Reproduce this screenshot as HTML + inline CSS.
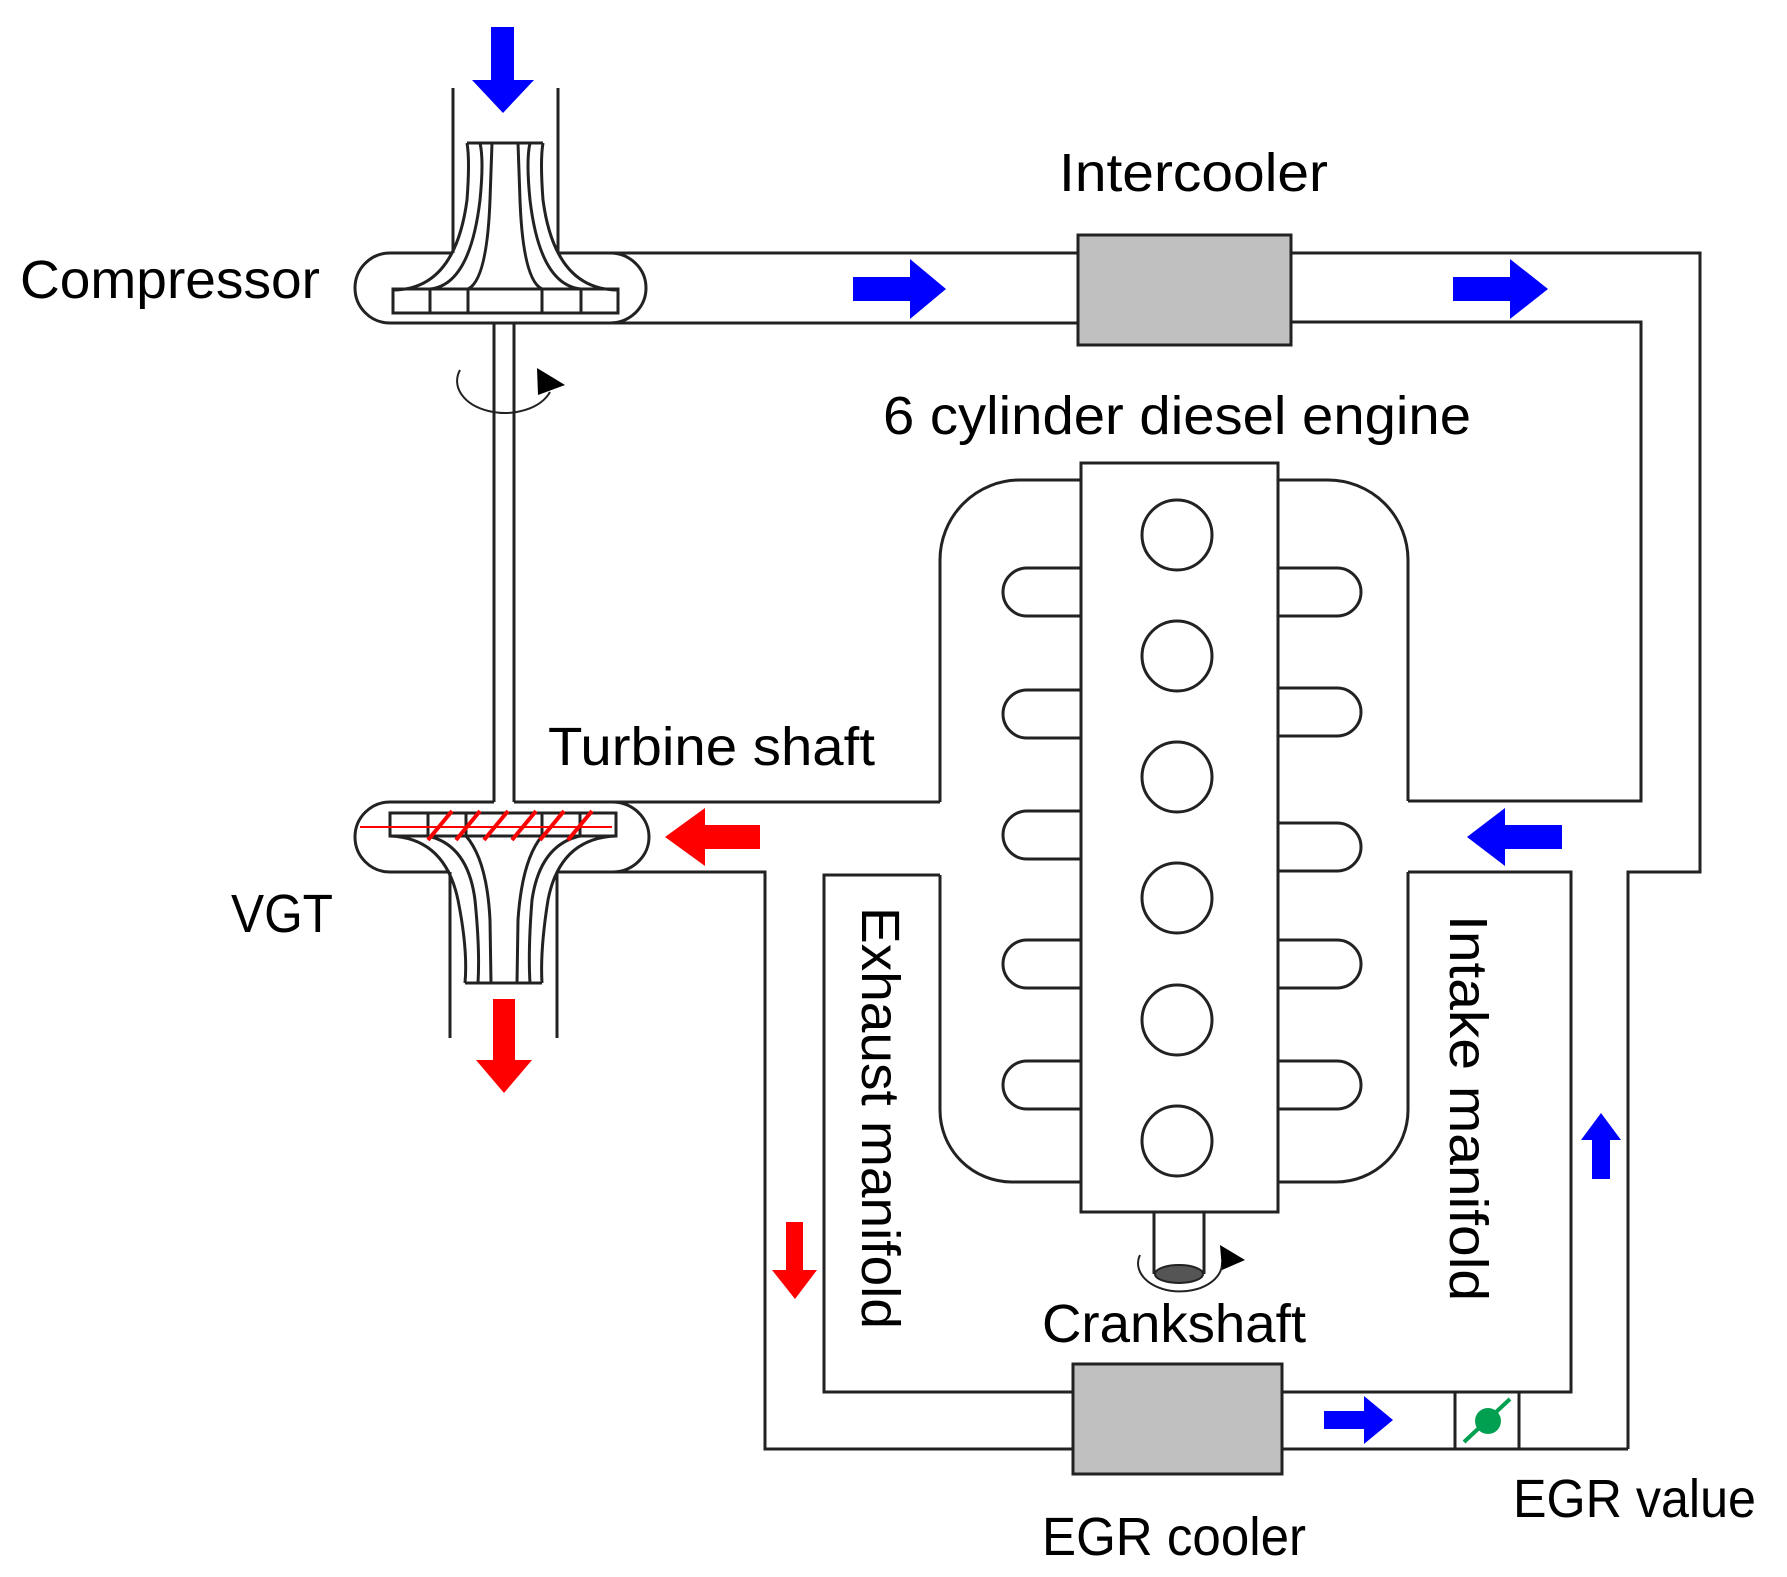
<!DOCTYPE html>
<html><head><meta charset="utf-8"><style>
html,body{margin:0;padding:0;background:#fff;}
svg{display:block;}
text{font-family:"Liberation Sans",sans-serif;fill:#000;}
</style></head><body>
<svg width="1787" height="1577" viewBox="0 0 1787 1577" xmlns="http://www.w3.org/2000/svg">
<g fill="none" stroke="#222" stroke-width="3">
<!-- compressor inlet -->
<path d="M453 88 V253 M558 88 V253"/>
<!-- compressor housing -->
<path d="M453 253 H390 A35 35 0 0 0 390 323 H629"/>
<path d="M558 253 H1078 M629 323 H1078"/>
<path d="M610 253 A36 35 0 0 1 610 323"/>
<!-- impeller -->
<rect x="393" y="289" width="225" height="24"/>
<path d="M430 289 V313 M468 289 V313 M542 289 V313 M581 289 V313"/>
<path d="M467 143 H543"/>
<path d="M393 290 Q455 290 467 200 Q470 160 467 143"/>
<path d="M430 289 Q470 285 480 200 Q484 160 480 143"/>
<path d="M468 289 Q487 280 490 200 L492 143"/>
<path d="M542 289 Q523 280 520 200 L518 143"/>
<path d="M581 289 Q540 285 530 200 Q526 160 530 143"/>
<path d="M618 290 Q555 290 543 200 Q540 160 543 143"/>
<!-- shaft -->
<path d="M494 323 V802 M514 323 V802"/>
<!-- rotation arrow top -->
<path d="M460 370 A42 28 0 0 0 550 392" stroke-width="2"/>
<!-- intercooler to right -->
<path d="M1291 253 H1700 V872 H1628 V1449 M1291 322 H1641 V801 H1408"/>
<!-- turbine housing -->
<path d="M494 802 H390 A35 35 0 0 0 390 872 H450 M557 872 H765 V1449 H1073 M514 802 H940"/>
<path d="M612 802 A37 35 0 0 1 612 872"/>
<rect x="390" y="813" width="226" height="23"/>
<path d="M428 813 V836 M466 813 V836 M542 813 V836 M580 813 V836"/>
<path d="M450 872 V1038 M557 872 V1038"/>
<path d="M465 983 H542"/>
<path d="M390 836 Q445 838 458 900 Q468 950 465 983"/>
<path d="M428 836 Q468 845 475 900 Q480 950 478 983"/>
<path d="M466 836 Q487 860 490 920 L491 983"/>
<path d="M542 836 Q522 860 518 920 L517 983"/>
<path d="M580 836 Q540 845 532 900 Q528 950 530 983"/>
<path d="M616 836 Q560 838 548 900 Q540 950 542 983"/>
<!-- exhaust inner -->
<path d="M940 875 H824 V1392 H1073"/>
<!-- EGR right -->
<path d="M1282 1392 H1571 V872 H1408 M1282 1449 H1628"/>
<rect x="1455" y="1392" width="64" height="57"/>
<!-- engine outline -->
<path d="M940 802 V560 A80 80 0 0 1 1020 480 H1081"/>
<path d="M1408 801 V560 A80 80 0 0 0 1328 480 H1278"/>
<path d="M940 875 V1110 A72 72 0 0 0 1012 1182 H1081"/>
<path d="M1408 872 V1110 A72 72 0 0 1 1336 1182 H1278"/>
<rect x="1081" y="463" width="197" height="749"/>
<!-- cylinders -->
<ellipse cx="1177" cy="535" rx="35" ry="35"/>
<ellipse cx="1177" cy="656" rx="35" ry="35"/>
<ellipse cx="1177" cy="777" rx="35" ry="35"/>
<ellipse cx="1177" cy="898" rx="35" ry="35"/>
<ellipse cx="1177" cy="1020" rx="35" ry="35"/>
<ellipse cx="1177" cy="1141" rx="35" ry="35"/>
<!-- fins left -->
<path d="M1081 568 H1027 A24 24 0 0 0 1027 616 H1081"/>
<path d="M1081 690 H1027 A24 24 0 0 0 1027 738 H1081"/>
<path d="M1081 811 H1027 A24 24 0 0 0 1027 859 H1081"/>
<path d="M1081 940 H1027 A24 24 0 0 0 1027 988 H1081"/>
<path d="M1081 1061 H1027 A24 24 0 0 0 1027 1109 H1081"/>
<!-- fins right -->
<path d="M1278 568 H1337 A24 24 0 0 1 1337 616 H1278"/>
<path d="M1278 688 H1337 A24 24 0 0 1 1337 736 H1278"/>
<path d="M1278 823 H1337 A24 24 0 0 1 1337 871 H1278"/>
<path d="M1278 940 H1337 A24 24 0 0 1 1337 988 H1278"/>
<path d="M1278 1061 H1337 A24 24 0 0 1 1337 1109 H1278"/>
<!-- crankshaft -->
<path d="M1154 1212 V1274 M1204 1212 V1274"/>
<path d="M1140 1255 A42 28 0 1 0 1222 1262" stroke-width="2"/>
</g>
<ellipse cx="1179" cy="1274" rx="24" ry="9" fill="#555" stroke="#222" stroke-width="2"/>
<polygon points="1220,1245 1245,1260 1222,1270" fill="#000"/>
<polygon points="537,368 565,385 538,395" fill="#000"/>
<!-- coolers -->
<rect x="1078" y="235" width="213" height="110" fill="#c0c0c0" stroke="#222" stroke-width="3"/>
<rect x="1073" y="1364" width="209" height="110" fill="#c0c0c0" stroke="#222" stroke-width="3"/>
<!-- red hatch -->
<g stroke="#f00" stroke-width="4">
<path d="M360 827 H612" stroke-width="2"/>
<path d="M428 840 L452 811 M456 840 L480 811 M484 840 L508 811 M512 840 L536 811 M540 840 L564 811 M568 840 L592 811"/>
</g>
<!-- blue arrows -->
<g fill="#0000ff">
<polygon points="491,27 514,27 514,80 534,80 503,113 472,80 491,80"/>
<polygon points="853,277 910,277 910,259 946,289 910,319 910,301 853,301"/>
<polygon points="1453,277 1510,277 1510,259 1548,289 1510,319 1510,301 1453,301"/>
<polygon points="1562,825 1505,825 1505,808 1467,837 1505,866 1505,849 1562,849"/>
<polygon points="1592,1179 1610,1179 1610,1140 1621,1140 1601,1113 1581,1140 1592,1140"/>
<polygon points="1324,1411 1364,1411 1364,1396 1393,1420 1364,1444 1364,1429 1324,1429"/>
</g>
<!-- red arrows -->
<g fill="#ff0000">
<polygon points="493,999 515,999 515,1060 532,1060 504,1093 476,1060 493,1060"/>
<polygon points="760,825 705,825 705,808 665,837 705,866 705,849 760,849"/>
<polygon points="786,1222 803,1222 803,1270 817,1270 795,1299 772,1270 786,1270"/>
</g>
<!-- EGR valve -->
<line x1="1464" y1="1442" x2="1510" y2="1399" stroke="#00a050" stroke-width="4"/>
<circle cx="1488" cy="1421" r="13" fill="#00a050"/>
<!-- labels -->
<g font-size="54">
<text x="20" y="298" textLength="300" lengthAdjust="spacingAndGlyphs">Compressor</text>
<text x="1059" y="191" textLength="269" lengthAdjust="spacingAndGlyphs">Intercooler</text>
<text x="883" y="434" textLength="588" lengthAdjust="spacingAndGlyphs">6 cylinder diesel engine</text>
<text x="548" y="765" textLength="327" lengthAdjust="spacingAndGlyphs">Turbine shaft</text>
<text x="231" y="932" textLength="102" lengthAdjust="spacingAndGlyphs">VGT</text>
<text x="1042" y="1342" textLength="264" lengthAdjust="spacingAndGlyphs">Crankshaft</text>
<text x="1042" y="1555" textLength="264" lengthAdjust="spacingAndGlyphs">EGR cooler</text>
<text x="1513" y="1517" textLength="243" lengthAdjust="spacingAndGlyphs">EGR value</text>
<text transform="translate(862,907) rotate(90)" textLength="422" lengthAdjust="spacingAndGlyphs">Exhaust manifold</text>
<text transform="translate(1450,915) rotate(90)" textLength="386" lengthAdjust="spacingAndGlyphs">Intake manifold</text>
</g>
</svg>
</body></html>
